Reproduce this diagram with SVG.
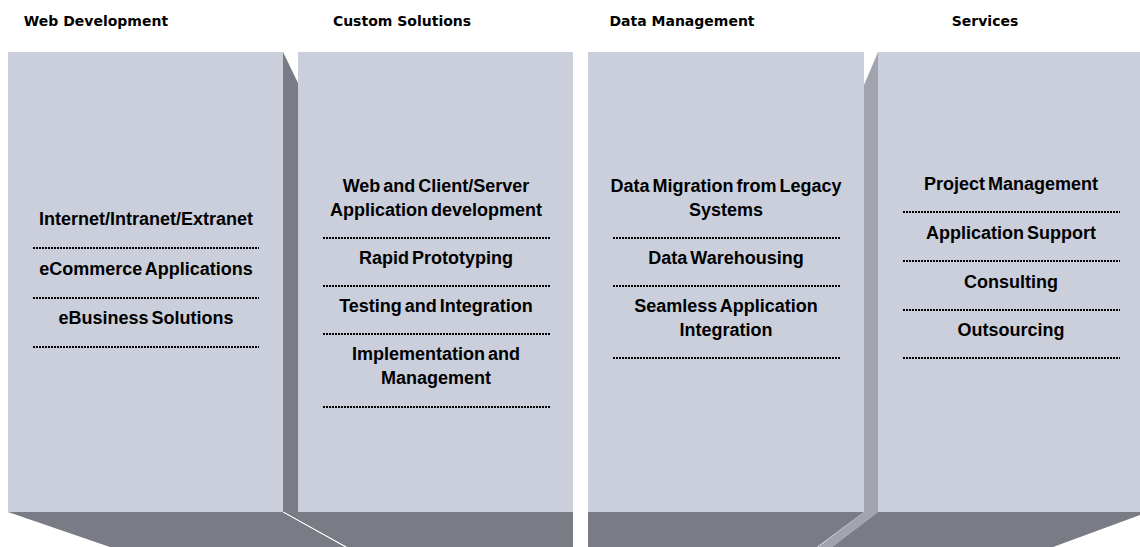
<svg xmlns="http://www.w3.org/2000/svg" width="1140" height="547" viewBox="0 0 1140 547">
<style>
.panel{fill:#cbcfdb}
.dark{fill:#797b85}
.mid{fill:#a1a4ae}
.hd{font-family:"DejaVu Sans",Verdana,sans-serif;font-weight:bold;font-size:14px;fill:#000;text-anchor:middle}
.tx{font-family:"Liberation Sans",Arial,sans-serif;font-weight:bold;font-size:18px;fill:#000;text-anchor:middle;word-spacing:-2px}
.dot{stroke:#000;stroke-width:2;stroke-dasharray:2 1;fill:none}
</style>
<rect width="1140" height="547" fill="#fff"/>
<g id="shapes">
<polygon class="dark" points="8,512 283,512 345,547 110,547"/>
<polygon class="dark" points="284,512 573,512 573,547 347,547"/>
<polygon class="dark" points="588,512 864,512 817,547 588,547"/>
<polygon class="mid" points="864,512 878,512 832,547 818,547"/>
<polygon class="dark" points="878,512 1140,512 1140,515 1053,547 832,547"/>
<line x1="283" y1="512" x2="346" y2="547" stroke="#fff" stroke-width="1"/>
<polygon class="dark" points="283,52 298,83 298,512 283,512"/>
<polygon class="mid" points="864,85 878,52 878,512 864,512"/>
</g>
<g id="web-development">
<rect class="panel" x="8" y="52" width="275" height="460"/>
<text class="hd" x="96" y="26">Web Development</text>
<text class="tx" x="146" y="225">Internet/Intranet/Extranet</text>
<line class="dot" x1="33" y1="248" x2="259" y2="248"/>
<text class="tx" x="146" y="275">eCommerce Applications</text>
<line class="dot" x1="33" y1="298" x2="259" y2="298"/>
<text class="tx" x="146" y="324">eBusiness Solutions</text>
<line class="dot" x1="33" y1="347" x2="259" y2="347"/>
</g>
<g id="custom-solutions">
<rect class="panel" x="298" y="52" width="275" height="460"/>
<text class="hd" x="402" y="26">Custom Solutions</text>
<text class="tx" x="436" y="192">Web and Client/Server</text>
<text class="tx" x="436" y="216">Application development</text>
<line class="dot" x1="323" y1="238" x2="550" y2="238"/>
<text class="tx" x="436" y="264">Rapid Prototyping</text>
<line class="dot" x1="323" y1="286" x2="550" y2="286"/>
<text class="tx" x="436" y="312">Testing and Integration</text>
<line class="dot" x1="323" y1="334" x2="550" y2="334"/>
<text class="tx" x="436" y="360">Implementation and</text>
<text class="tx" x="436" y="384">Management</text>
<line class="dot" x1="323" y1="407" x2="550" y2="407"/>
</g>
<g id="data-management">
<rect class="panel" x="588" y="52" width="276" height="460"/>
<text class="hd" x="682" y="26">Data Management</text>
<text class="tx" x="726" y="192">Data Migration from Legacy</text>
<text class="tx" x="726" y="216">Systems</text>
<line class="dot" x1="613" y1="238" x2="840" y2="238"/>
<text class="tx" x="726" y="264">Data Warehousing</text>
<line class="dot" x1="613" y1="286" x2="840" y2="286"/>
<text class="tx" x="726" y="312">Seamless Application</text>
<text class="tx" x="726" y="336">Integration</text>
<line class="dot" x1="613" y1="358" x2="840" y2="358"/>
</g>
<g id="services">
<rect class="panel" x="878" y="52" width="262" height="460"/>
<text class="hd" x="985" y="26">Services</text>
<text class="tx" x="1011" y="190">Project Management</text>
<line class="dot" x1="903" y1="212" x2="1120" y2="212"/>
<text class="tx" x="1011" y="239">Application Support</text>
<line class="dot" x1="903" y1="261" x2="1120" y2="261"/>
<text class="tx" x="1011" y="288">Consulting</text>
<line class="dot" x1="903" y1="310" x2="1120" y2="310"/>
<text class="tx" x="1011" y="336">Outsourcing</text>
<line class="dot" x1="903" y1="358" x2="1120" y2="358"/>
</g>
</svg>
